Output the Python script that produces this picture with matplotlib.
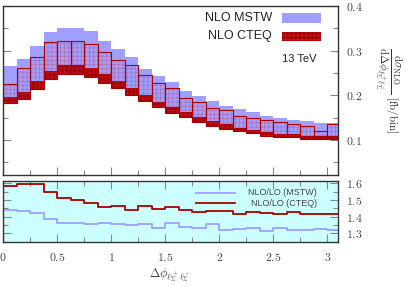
import numpy as np
import matplotlib
matplotlib.use("Agg")
import matplotlib.pyplot as plt
from matplotlib.patches import Rectangle
from matplotlib.ticker import MultipleLocator, FuncFormatter

plt.rcParams['mathtext.fontset'] = 'cm'
plt.rcParams['hatch.linewidth'] = 0.5

# ---- data ----
bin_width = 0.125
bin_left = [i * bin_width for i in range(25)]

mstw_hi = [0.266, 0.281, 0.310, 0.342, 0.350, 0.350, 0.344, 0.322, 0.303, 0.285,
           0.259, 0.243, 0.231, 0.210, 0.199, 0.187, 0.176, 0.169, 0.162, 0.154,
           0.149, 0.146, 0.142, 0.139, 0.139]
mstw_lo = [0.196, 0.208, 0.232, 0.255, 0.267, 0.267, 0.261, 0.248, 0.233, 0.216,
           0.201, 0.186, 0.173, 0.162, 0.152, 0.143, 0.137, 0.128, 0.122, 0.119,
           0.113, 0.113, 0.109, 0.109, 0.109]
cteq_hi = [0.225, 0.262, 0.285, 0.319, 0.322, 0.322, 0.315, 0.297, 0.279, 0.267,
           0.246, 0.228, 0.216, 0.195, 0.186, 0.172, 0.167, 0.154, 0.150, 0.146,
           0.141, 0.136, 0.131, 0.121, 0.136]
cteq_lo = [0.182, 0.193, 0.214, 0.237, 0.248, 0.249, 0.242, 0.228, 0.217, 0.201,
           0.187, 0.175, 0.161, 0.151, 0.141, 0.131, 0.126, 0.121, 0.115, 0.110,
           0.106, 0.106, 0.102, 0.102, 0.102]

ratio_cteq = [1.582, 1.594, 1.594, 1.548, 1.514, 1.500, 1.482, 1.460, 1.467, 1.438,
              1.462, 1.446, 1.456, 1.438, 1.428, 1.436, 1.432, 1.416, 1.428, 1.423,
              1.414, 1.428, 1.416, 1.416, 1.416]
ratio_mstw = [1.440, 1.432, 1.424, 1.388, 1.364, 1.364, 1.354, 1.360, 1.357, 1.348,
              1.354, 1.334, 1.362, 1.340, 1.334, 1.354, 1.322, 1.329, 1.331, 1.315,
              1.332, 1.320, 1.320, 1.327, 1.322]

x_ticks = [0, 0.5, 1, 1.5, 2, 2.5, 3]

BLUE = '#9f9fff'
RED = '#a80000'
FRAME = '#333333'
TICKC = '#888888'
LABC = '#444444'

W, H = 407, 286
fig = plt.figure(figsize=(W / 100, H / 100), dpi=100)
ax1 = fig.add_axes([3 / W, 1 - 175 / H, 335 / W, 169 / H])
ax2 = fig.add_axes([3 / W, 1 - 241.7 / H, 335 / W, 60.7 / H])

left = np.array(bin_left)
mh, ml = np.array(mstw_hi), np.array(mstw_lo)
ch, cl = np.array(cteq_hi), np.array(cteq_lo)

# top panel bands
ax1.bar(left, ch - cl, bottom=cl, width=bin_width, align='edge', color=RED, linewidth=0, zorder=1)
ax1.bar(left, mh - ml, bottom=ml, width=bin_width, align='edge', color=BLUE, linewidth=0, zorder=2)
ax1.bar(left, ch - cl, bottom=cl, width=bin_width, align='edge', facecolor='none',
        edgecolor=(0.8, 0.2, 0.35, 0.45), hatch='++++', linewidth=0, zorder=3)
ax1.bar(left, ch - cl, bottom=cl, width=bin_width, align='edge', facecolor='none',
        edgecolor=RED, linewidth=0.8, zorder=4)

ax1.set_xlim(0, 3.1)
ax1.set_ylim(0.022, 0.4)

# legend (top)
ax1.text(0.803, 0.929, 'NLO MSTW', transform=ax1.transAxes, ha='right', va='center',
         fontsize=9, family='Liberation Sans', color='#222222')
ax1.text(0.803, 0.823, 'NLO CTEQ', transform=ax1.transAxes, ha='right', va='center',
         fontsize=9, family='Liberation Sans', color='#222222')
ax1.add_patch(Rectangle((0.833, 0.899), 0.116, 0.058, transform=ax1.transAxes,
                        facecolor=BLUE, edgecolor='none', zorder=5))
ax1.add_patch(Rectangle((0.833, 0.795), 0.116, 0.053, transform=ax1.transAxes,
                        facecolor=RED, edgecolor=(0.85, 0.3, 0.3, 0.45), hatch='++++',
                        linewidth=0, zorder=5))
ax1.text(0.937, 0.686, '13 TeV', transform=ax1.transAxes, ha='right', va='center',
         fontsize=8, family='Liberation Sans', color='#222222')

# bottom panel
ax2.set_facecolor('#ccffff')
edges = np.append(left, left[-1] + bin_width)
ax2.step(edges, np.append(ratio_mstw, ratio_mstw[-1]), where='post', color=BLUE, lw=1.3)
ax2.step(edges, np.append(ratio_cteq, ratio_cteq[-1]), where='post', color=RED, lw=1.3)
ax2.set_xlim(0, 3.1)
ax2.set_ylim(1.25, 1.615)

ax2.plot([0.576, 0.693], [0.807, 0.807], transform=ax2.transAxes, color=BLUE, lw=1.3)
ax2.plot([0.576, 0.693], [0.633, 0.633], transform=ax2.transAxes, color=RED, lw=1.3)
ax2.text(0.937, 0.807, 'NLO/LO (MSTW)', transform=ax2.transAxes, ha='right', va='center',
         fontsize=6.5, family='Liberation Sans', color='#444444')
ax2.text(0.937, 0.633, 'NLO/LO (CTEQ)', transform=ax2.transAxes, ha='right', va='center',
         fontsize=6.5, family='Liberation Sans', color='#444444')

fmt = FuncFormatter(lambda v, p: '$%g$' % round(v, 3))

for ax in (ax1, ax2):
    for s in ax.spines.values():
        s.set_color(FRAME)
        s.set_linewidth(1.0)
    ax.xaxis.set_major_locator(MultipleLocator(0.5))
    ax.xaxis.set_minor_locator(MultipleLocator(0.25))
    ax.yaxis.set_major_locator(MultipleLocator(0.1))
    ax.yaxis.set_minor_locator(MultipleLocator(0.05))
    ax.tick_params(which='both', direction='in', color=TICKC, labelcolor=LABC,
                   left=True, right=True, bottom=True, top=(ax is ax2),
                   labelleft=False, labelright=True, labelsize=8.5, pad=6, width=0.8)
    ax.tick_params(which='major', length=6)
    ax.tick_params(which='minor', length=3.5)
    ax.yaxis.set_major_formatter(fmt)
    ax.xaxis.set_major_formatter(fmt)

ax1.tick_params(labelbottom=False)
ax2.set_xticks(x_ticks)
ax2.tick_params(axis='x', pad=7)

fig.text(389 / W, 1 - 90 / H,
         r'$\dfrac{\mathrm{d}\sigma_{\rm NLO}}{\mathrm{d}\Delta\phi_{\ell_\Sigma^+\ell_\Sigma^-}}$ $[\mathrm{fb/bin}]$',
         rotation=270, ha='center', va='center', fontsize=8, color='#333333')
fig.text(170.5 / W, 1 - 275 / H, r'$\Delta\phi_{\ell_\Sigma^+\ell_\Sigma^-}$',
         ha='center', va='center', fontsize=9, color='#444444')

fig.savefig('out.png', dpi=100)
